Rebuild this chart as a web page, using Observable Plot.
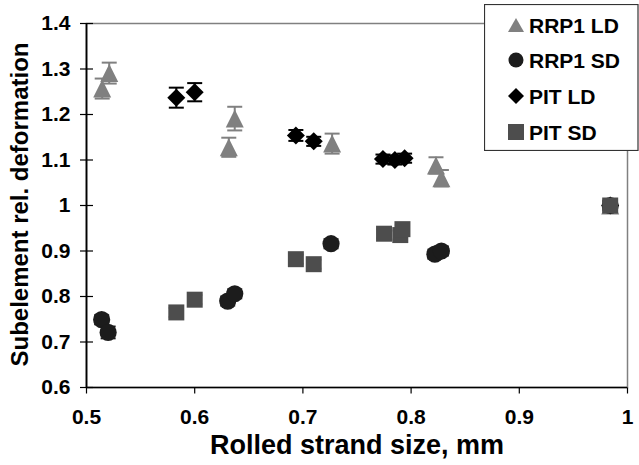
<!DOCTYPE html>
<html>
<head>
<meta charset="utf-8">
<script src="https://cdn.jsdelivr.net/npm/d3@7"></script>
<script src="https://cdn.jsdelivr.net/npm/@observablehq/plot@0.6"></script>
<style>
  html, body { margin: 0; padding: 0; background: #fff; }
  #wrap { position: relative; width: 639px; height: 465px; }
  #legend { position: absolute; left: 484px; top: 4px; }
</style>
</head>
<body>
<div id="wrap"></div>
<script>
// ---- data ----
const xTicks = [0.5, 0.6, 0.7, 0.8, 0.9, 1.0];
const yTicks = [0.6, 0.7, 0.8, 0.9, 1.0, 1.1, 1.2, 1.3, 1.4];

const seriesNames = ["RRP1 LD", "RRP1 SD", "PIT LD", "PIT SD"];

const rrp1LdX   = [0.5145, 0.521, 0.6315, 0.637, 0.727, 0.823, 0.828, 0.984];
const rrp1LdY   = [1.257, 1.291, 1.128, 1.191, 1.136, 1.088, 1.060, 1.000];
const rrp1LdErr = [0.022, 0.023, 0.021, 0.026, 0.022, 0.018, 0.018, 0.010];

const rrp1SdX   = [0.514, 0.520, 0.6305, 0.637, 0.726, 0.822, 0.828, 0.984];
const rrp1SdY   = [0.749, 0.721, 0.790, 0.806, 0.916, 0.893, 0.900, 1.000];
const rrp1SdErr = [0.010, 0.013, 0.010, 0.010, 0.010, 0.010, 0.010, 0.010];

const pitLdX    = [0.583, 0.600, 0.6935, 0.710, 0.774, 0.785, 0.794, 0.984];
const pitLdY    = [1.237, 1.249, 1.154, 1.141, 1.102, 1.100, 1.104, 1.000];
const pitLdErr  = [0.022, 0.020, 0.012, 0.010, 0.010, 0.010, 0.010, 0.010];

const pitSdX    = [0.583, 0.600, 0.6935, 0.710, 0.775, 0.790, 0.792, 0.984];
const pitSdY    = [0.765, 0.793, 0.882, 0.871, 0.938, 0.935, 0.948, 1.000];
const pitSdErr  = [0.010, 0.010, 0.010, 0.010, 0.010, 0.010, 0.010, 0.012];

// ---- build tables ----
const mk = (xs, ys, es) => xs.map((x, i) => ({x, y: ys[i], e: es[i]}));
const rrp1Ld = mk(rrp1LdX, rrp1LdY, rrp1LdErr);
const rrp1Sd = mk(rrp1SdX, rrp1SdY, rrp1SdErr);
const pitLd  = mk(pitLdX, pitLdY, pitLdErr);
const pitSd  = mk(pitSdX, pitSdY, pitSdErr);

const cTri = "#808080", cCirc = "#1c1c1c", cDia = "#000000", cSq = "#4d4d4d";

// custom symbols
const triSym = {draw(ctx, size) { const h = Math.sqrt(size) / 2; ctx.moveTo(0, -h); ctx.lineTo(h, h); ctx.lineTo(-h, h); ctx.closePath(); }};
const hline = {draw(ctx, size) { const w = Math.sqrt(size) / 2; ctx.moveTo(-w, 0); ctx.lineTo(w, 0); }};
const vline = {draw(ctx, size) { const h = Math.sqrt(size); ctx.moveTo(0, 0); ctx.lineTo(0, h); }};
const rFor = s => s / Math.sqrt(Math.PI);

function errMarks(data, color) {
  return [
    Plot.ruleX(data, {x: "x", y1: d => d.y - d.e, y2: d => d.y + d.e, stroke: color, strokeWidth: 2}),
    Plot.dot(data, {x: "x", y: d => d.y + d.e, symbol: hline, r: rFor(15), stroke: color, strokeWidth: 2, fill: "none"}),
    Plot.dot(data, {x: "x", y: d => d.y - d.e, symbol: hline, r: rFor(15), stroke: color, strokeWidth: 2, fill: "none"})
  ];
}

const FONT = "'Liberation Sans', Arial, Helvetica, sans-serif";
const fmt = d => (d === 1 ? "1" : d.toFixed(1));

const chart = Plot.plot({
  width: 639,
  height: 465,
  marginLeft: 86,
  marginRight: 12,
  marginTop: 23,
  marginBottom: 78,
  style: {fontFamily: FONT, fontSize: "20px", fontWeight: "bold", background: "#fff", color: "#000", overflow: "visible"},
  x: {domain: [0.5, 1.0], axis: null},
  y: {domain: [0.6, 1.4], axis: null},
  marks: [
    Plot.frame({stroke: "#808080", strokeWidth: 1.5}),
    // x tick marks (outward, 6px) and labels
    Plot.dot(xTicks, {x: d => d, y: () => 0.6, symbol: vline, r: rFor(6), stroke: "#000", strokeWidth: 1.2}),
    Plot.text(xTicks, {x: d => d, frameAnchor: "bottom", lineAnchor: "middle", textAnchor: "middle", dy: 30, text: fmt, fontSize: 21, fontWeight: "bold", fill: "#000"}),
    // y tick marks (crossing, 13px) and labels
    Plot.dot(yTicks, {x: () => 0.5, y: d => d, symbol: hline, r: rFor(13), stroke: "#000", strokeWidth: 1.2}),
    Plot.text(yTicks, {y: d => d, frameAnchor: "left", lineAnchor: "middle", textAnchor: "end", dx: -16, text: fmt, fontSize: 21, fontWeight: "bold", fill: "#000"}),
    Plot.ruleX([0.5], {stroke: "#000", strokeWidth: 1.8}),
    Plot.ruleY([0.6], {stroke: "#000", strokeWidth: 1.5}),
    ...errMarks(rrp1Ld, cTri),
    Plot.dot(rrp1Ld, {x: "x", y: "y", symbol: triSym, r: rFor(18), fill: cTri, stroke: "none"}),
    ...errMarks(rrp1Sd, cCirc),
    Plot.dot(rrp1Sd, {x: "x", y: "y", symbol: "circle", r: 8.6, fill: cCirc, stroke: "none"}),
    ...errMarks(pitLd, cDia),
    Plot.dot(pitLd, {x: "x", y: "y", symbol: "diamond2", r: rFor(14.4), fill: cDia, stroke: "none"}),
    ...errMarks(pitSd, cSq),
    Plot.dot(pitSd, {x: "x", y: "y", symbol: "square", r: rFor(16), fill: cSq, stroke: "none"}),
    Plot.text(["Rolled strand size, mm"], {frameAnchor: "bottom", textAnchor: "middle", lineAnchor: "middle", dy: 58, fontSize: 27, fontWeight: "bold", fill: "#000"}),
    Plot.text(["Subelement rel. deformation"], {frameAnchor: "left", textAnchor: "middle", lineAnchor: "middle", dx: -66, dy: -1, rotate: -90, fontSize: 24, fontWeight: "bold", fill: "#000"})
  ]
});

const wrap = document.getElementById("wrap");
wrap.appendChild(chart);

// ---- legend (HTML/SVG overlay) ----
const legendColors = [cTri, cCirc, cDia, cSq];
const legendShapes = ["triangle", "circle", "diamond", "square"];
const ns = "http://www.w3.org/2000/svg";
const lg = document.createElementNS(ns, "svg");
lg.setAttribute("id", "legend");
lg.setAttribute("width", 155);
lg.setAttribute("height", 147);
const box = document.createElementNS(ns, "rect");
box.setAttribute("x", 0.5); box.setAttribute("y", 0.5);
box.setAttribute("width", 153.5); box.setAttribute("height", 146);
box.setAttribute("fill", "#fff"); box.setAttribute("stroke", "#333"); box.setAttribute("stroke-width", 1.2);
lg.appendChild(box);
const rowY = [21, 56, 92, 128];
seriesNames.forEach((name, i) => {
  const cx = 32, cy = rowY[i];
  let el;
  if (legendShapes[i] === "triangle") {
    el = document.createElementNS(ns, "path");
    el.setAttribute("d", `M${cx},${cy - 7}L${cx + 8},${cy + 7}L${cx - 8},${cy + 7}Z`);
  } else if (legendShapes[i] === "circle") {
    el = document.createElementNS(ns, "circle");
    el.setAttribute("cx", cx); el.setAttribute("cy", cy); el.setAttribute("r", 7.5);
  } else if (legendShapes[i] === "diamond") {
    el = document.createElementNS(ns, "path");
    el.setAttribute("d", `M${cx},${cy - 8}L${cx + 8},${cy}L${cx},${cy + 8}L${cx - 8},${cy}Z`);
  } else {
    el = document.createElementNS(ns, "rect");
    el.setAttribute("x", cx - 8); el.setAttribute("y", cy - 8); el.setAttribute("width", 16); el.setAttribute("height", 16);
  }
  el.setAttribute("fill", legendColors[i]);
  lg.appendChild(el);
  const t = document.createElementNS(ns, "text");
  t.setAttribute("x", 45); t.setAttribute("y", cy + 7.5);
  t.setAttribute("font-family", FONT); t.setAttribute("font-size", 21); t.setAttribute("font-weight", "bold");
  t.setAttribute("fill", "#000");
  t.textContent = name;
  lg.appendChild(t);
});
wrap.appendChild(lg);
</script>
</body>
</html>
